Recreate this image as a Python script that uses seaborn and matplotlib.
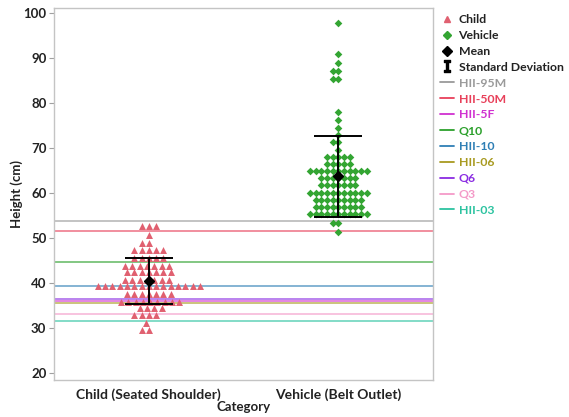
import numpy as np
import pandas as pd
import matplotlib
matplotlib.use("Agg")
import matplotlib.pyplot as plt
import seaborn as sns
from matplotlib.lines import Line2D

# ---- data -----------------------------------------------------------------
categories = ["Child (Seated Shoulder)", "Vehicle (Belt Outlet)"]

# measured heights (cm), grouped into bins: bin value and number of subjects
child_levels = [52.7, 50.7, 48.8, 47.2, 45.5, 43.8, 42.3, 40.7, 39.2, 37.6,
                35.8, 34.4, 32.9, 31.0, 29.6]
child_counts = [3, 1, 2, 5, 5, 7, 7, 7, 15, 7, 9, 4, 4, 1, 2]

vehicle_levels = [97.7, 90.8, 88.8, 87.0, 85.3, 78.0, 76.2, 74.5, 72.8, 71.2,
                  69.6, 67.9, 66.4, 64.8, 63.3, 61.8, 59.9, 58.4, 56.9, 55.2,
                  53.3, 51.2]
vehicle_counts = [1, 1, 1, 2, 2, 1, 1, 1, 1, 2,
                  1, 5, 5, 11, 7, 7, 11, 9, 9, 11,
                  2, 1]

# reference dummy heights (cm)
ref_names = ["HII-95M", "HII-50M", "HII-5F", "Q10", "HII-10", "HII-06",
             "Q6", "Q3", "HII-03"]
ref_heights = [53.7, 51.4, 36.0, 44.5, 39.2, 35.6, 36.3, 33.0, 31.6]
ref_colors = ["#9a9a9a", "#e8405a", "#d030d0", "#2ca02c", "#2f7fb5",
              "#a89a20", "#8a2be2", "#f49ac8", "#2cc3a0"]

child_color = "#e06070"
vehicle_color = "#33a532"
text_color = "#222222"

# ---- build long table ------------------------------------------------------
child = np.repeat(child_levels, child_counts)
vehicle = np.repeat(vehicle_levels, vehicle_counts)
df = pd.DataFrame({
    "Category": [categories[0]] * len(child) + [categories[1]] * len(vehicle),
    "Height": np.concatenate([child, vehicle]),
})

# ---- figure ----------------------------------------------------------------
sns.set_theme(style="white")
plt.rcParams["font.family"] = ["Lato", "DejaVu Sans"]
plt.rcParams["font.weight"] = "bold"
plt.rcParams["axes.labelweight"] = "bold"

fig = plt.figure(figsize=(5.69, 4.17), dpi=100)
ax = fig.add_axes([0.095, 0.089, 0.666, 0.892])

for name, h, c in zip(ref_names, ref_heights, ref_colors):
    ax.axhline(h, color=c, lw=1.1, alpha=0.75, zorder=1)

# swarm spacing follows `size`; markers are then enlarged slightly so that
# neighbouring points touch like a dot plot
sns.swarmplot(data=df[df["Category"] == categories[0]], x="Category", y="Height",
              order=categories, color=child_color, marker="^", size=4.15,
              linewidth=0, ax=ax, zorder=3)
sns.swarmplot(data=df[df["Category"] == categories[1]], x="Category", y="Height",
              order=categories, color=vehicle_color, marker="D", size=3.9,
              linewidth=0, ax=ax, zorder=3)
ax.collections[0].set_sizes([5.0 ** 2])
ax.collections[1].set_sizes([4.6 ** 2])

means = [np.mean(child), np.mean(vehicle)]
sds = [np.std(child, ddof=1), np.std(vehicle, ddof=1)]
ax.errorbar([0, 1], means, yerr=sds, fmt="D", color="black", ms=5.5,
            capsize=17, elinewidth=1.4, capthick=1.4, zorder=5)

ax.set_xlim(-0.5, 1.5)
ax.set_ylim(18.4, 101.1)
ax.set_yticks(range(20, 101, 10))
ax.set_xlabel("Category", fontsize=9.5, color=text_color, labelpad=0)
ax.set_ylabel("Height (cm)", fontsize=9.5, color=text_color, labelpad=0)
ax.tick_params(axis="y", which="major", left=True, length=3.5, width=0.8,
               color="#a0a0a0", labelsize=9.5, labelcolor=text_color, pad=2)
ax.tick_params(axis="x", bottom=False, labelsize=10, labelcolor=text_color, pad=0)
for s in ax.spines.values():
    s.set_color("#c4c4c4")
    s.set_linewidth(1.0)

# ---- legend ----------------------------------------------------------------
handles = [
    Line2D([], [], ls="none", marker="^", color=child_color, ms=5),
    Line2D([], [], ls="none", marker="D", color=vehicle_color, ms=4),
    Line2D([], [], ls="none", marker="D", color="black", ms=5.5),
    Line2D([], [], ls="none", marker=r"$\mathtt{I}$", color="black", ms=8),
]
labels = ["Child", "Vehicle", "Mean", "Standard Deviation"]
label_colors = [text_color] * 4
for name, c in zip(ref_names, ref_colors):
    handles.append(Line2D([], [], color=c, lw=1.3))
    labels.append(name)
    label_colors.append(c)

fig.legend(handles, labels, loc="upper left", bbox_to_anchor=(0.765, 0.978),
           frameon=False, fontsize=8.8, handlelength=1.1, handletextpad=0.4,
           labelspacing=0.4, borderaxespad=0, labelcolor=label_colors)

fig.savefig("out.png", dpi=100)
